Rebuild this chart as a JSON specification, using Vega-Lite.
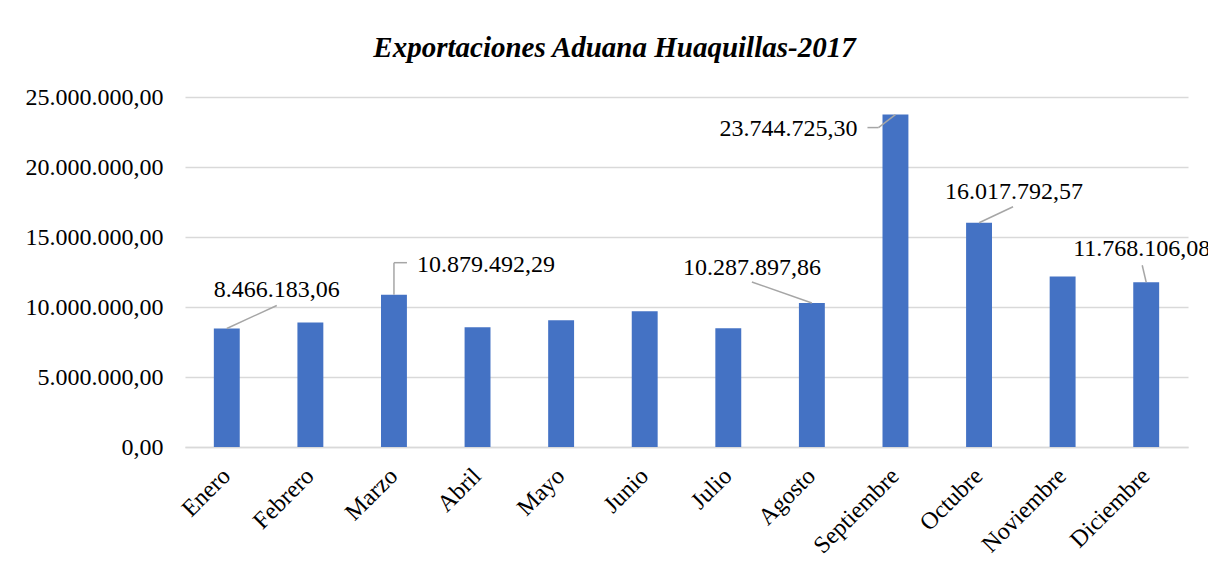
{
  "$schema": "https://vega.github.io/schema/vega-lite/v6.json",
  "width": 1003,
  "height": 350,
  "autosize": {"type": "none"},
  "padding": {"left": 185, "top": 97, "right": 20, "bottom": 124},
  "background": "white",
  "config": {
    "locale": {"number": {"decimal": ",", "thousands": ".", "grouping": [3], "currency": ["$", ""]}},
    "view": {"stroke": null},
    "font": "Liberation Serif",
    "text": {"font": "Liberation Serif", "fontSize": 24}
  },
  "title": {
    "text": "Exportaciones Aduana Huaquillas-2017",
    "font": "Liberation Serif",
    "fontSize": 29,
    "fontWeight": "bold",
    "fontStyle": "italic",
    "color": "#000000",
    "anchor": "middle",
    "dx": -72,
    "baseline": "alphabetic",
    "offset": -1
  },
  "data": {
    "values": [
      {"mes": "Enero", "valor": 8466183.06},
      {"mes": "Febrero", "valor": 8900000},
      {"mes": "Marzo", "valor": 10879492.29},
      {"mes": "Abril", "valor": 8550000},
      {"mes": "Mayo", "valor": 9050000},
      {"mes": "Junio", "valor": 9690000},
      {"mes": "Julio", "valor": 8480000},
      {"mes": "Agosto", "valor": 10287897.86},
      {"mes": "Septiembre", "valor": 23744725.30},
      {"mes": "Octubre", "valor": 16017792.57},
      {"mes": "Noviembre", "valor": 12180000},
      {"mes": "Diciembre", "valor": 11768106.08}
    ]
  },
  "encoding": {
    "x": {
      "field": "mes", "type": "nominal", "sort": null,
      "scale": {"paddingInner": 0.69, "paddingOuter": 0.345},
      "axis": {
        "title": null, "labelAngle": -45, "labelAlign": "right", "labelBaseline": "middle",
        "labelFont": "Liberation Serif", "labelFontSize": 24, "labelColor": "#000000",
        "labelPadding": 25, "ticks": false, "domainColor": "#d9d9d9", "domainWidth": 1.5, "grid": false
      }
    },
    "y": {
      "field": "valor", "type": "quantitative",
      "scale": {"domain": [0, 25000000], "nice": false},
      "axis": {
        "title": null, "values": [0, 5000000, 10000000, 15000000, 20000000, 25000000],
        "format": ",.2f", "labelFont": "Liberation Serif", "labelFontSize": 24, "labelColor": "#000000",
        "labelPadding": 22, "ticks": false, "domain": false, "gridColor": "#d9d9d9", "gridWidth": 1.5
      }
    }
  },
  "layer": [
    {"mark": {"type": "bar", "color": "#4472c4"}},
    {"transform": [{"filter": "datum.mes === 'Enero'"}], "mark": {"type": "rule", "color": "#a6a6a6", "strokeWidth": 1.5, "x2Offset": 50, "y2Offset": -23}, "encoding": {"x2": {"field": "mes"}, "y2": {"field": "valor"}}},
    {"transform": [{"filter": "datum.mes === 'Marzo'"}], "mark": {"type": "rule", "color": "#a6a6a6", "strokeWidth": 1.5, "x2Offset": 0, "y2Offset": -32}, "encoding": {"x2": {"field": "mes"}, "y2": {"field": "valor"}}},
    {"transform": [{"filter": "datum.mes === 'Marzo'"}], "mark": {"type": "rule", "color": "#a6a6a6", "strokeWidth": 1.5, "yOffset": -32, "x2Offset": 13, "y2Offset": -32}, "encoding": {"x2": {"field": "mes"}, "y2": {"field": "valor"}}},
    {"transform": [{"filter": "datum.mes === 'Agosto'"}], "mark": {"type": "rule", "color": "#a6a6a6", "strokeWidth": 1.5, "x2Offset": -60, "y2Offset": -21}, "encoding": {"x2": {"field": "mes"}, "y2": {"field": "valor"}}},
    {"transform": [{"filter": "datum.mes === 'Septiembre'"}], "mark": {"type": "rule", "color": "#a6a6a6", "strokeWidth": 1.5, "x2Offset": -17, "y2Offset": 13}, "encoding": {"x2": {"field": "mes"}, "y2": {"field": "valor"}}},
    {"transform": [{"filter": "datum.mes === 'Septiembre'"}], "mark": {"type": "rule", "color": "#a6a6a6", "strokeWidth": 1.5, "xOffset": -17, "yOffset": 13, "x2Offset": -28, "y2Offset": 13}, "encoding": {"x2": {"field": "mes"}, "y2": {"field": "valor"}}},
    {"transform": [{"filter": "datum.mes === 'Octubre'"}], "mark": {"type": "rule", "color": "#a6a6a6", "strokeWidth": 1.5, "x2Offset": 34, "y2Offset": -16}, "encoding": {"x2": {"field": "mes"}, "y2": {"field": "valor"}}},
    {"transform": [{"filter": "datum.mes === 'Diciembre'"}], "mark": {"type": "rule", "color": "#a6a6a6", "strokeWidth": 1.5, "x2Offset": -4, "y2Offset": -17}, "encoding": {"x2": {"field": "mes"}, "y2": {"field": "valor"}}},
    {"transform": [{"filter": "datum.mes === 'Enero'"}], "mark": {"type": "text", "font": "Liberation Serif", "fontSize": 24, "color": "#000000", "align": "center", "baseline": "alphabetic", "dx": 50, "dy": -31}, "encoding": {"text": {"field": "valor", "type": "quantitative", "format": ",.2f"}}},
    {"transform": [{"filter": "datum.mes === 'Marzo'"}], "mark": {"type": "text", "font": "Liberation Serif", "fontSize": 24, "color": "#000000", "align": "left", "baseline": "alphabetic", "dx": 23, "dy": -23}, "encoding": {"text": {"field": "valor", "type": "quantitative", "format": ",.2f"}}},
    {"transform": [{"filter": "datum.mes === 'Agosto'"}], "mark": {"type": "text", "font": "Liberation Serif", "fontSize": 24, "color": "#000000", "align": "center", "baseline": "alphabetic", "dx": -60, "dy": -28}, "encoding": {"text": {"field": "valor", "type": "quantitative", "format": ",.2f"}}},
    {"transform": [{"filter": "datum.mes === 'Septiembre'"}], "mark": {"type": "text", "font": "Liberation Serif", "fontSize": 24, "color": "#000000", "align": "right", "baseline": "alphabetic", "dx": -38, "dy": 21}, "encoding": {"text": {"field": "valor", "type": "quantitative", "format": ",.2f"}}},
    {"transform": [{"filter": "datum.mes === 'Octubre'"}], "mark": {"type": "text", "font": "Liberation Serif", "fontSize": 24, "color": "#000000", "align": "center", "baseline": "alphabetic", "dx": 35, "dy": -24}, "encoding": {"text": {"field": "valor", "type": "quantitative", "format": ",.2f"}}},
    {"transform": [{"filter": "datum.mes === 'Diciembre'"}], "mark": {"type": "text", "font": "Liberation Serif", "fontSize": 24, "color": "#000000", "align": "left", "baseline": "alphabetic", "dx": -73, "dy": -26}, "encoding": {"text": {"field": "valor", "type": "quantitative", "format": ",.2f"}}}
  ]
}
